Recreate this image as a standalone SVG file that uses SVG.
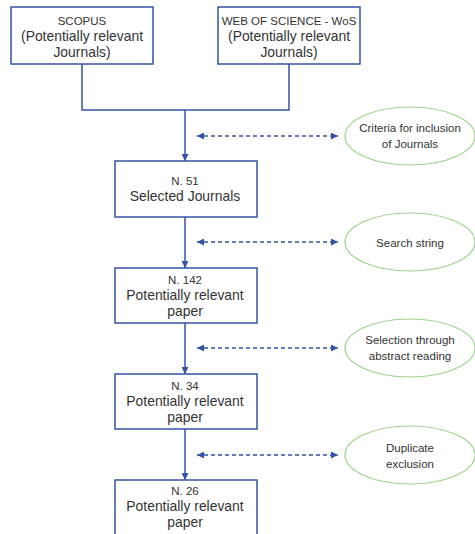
<svg xmlns="http://www.w3.org/2000/svg" width="475" height="534" viewBox="0 0 475 534">
<defs>
<marker id="ah" viewBox="0 0 8 8" refX="8" refY="4" markerWidth="7" markerHeight="7" markerUnits="userSpaceOnUse" orient="auto-start-reverse">
<path d="M0,0 L8,4 L0,8 z" fill="#3553A6"/>
</marker>
<style>
.box{fill:#fff;stroke:#3553A6;stroke-width:1.5}
.ell{fill:#fff;stroke:#9DD18C;stroke-width:1.2}
.ln{fill:none;stroke:#3553A6;stroke-width:1.5}
.dash{fill:none;stroke:#3553A6;stroke-width:1.3;stroke-dasharray:4,3}
text{font-family:"Liberation Sans",Arial,sans-serif;fill:#333;text-anchor:middle}
.s{font-size:11.5px}
.l{font-size:13.9px}
</style>
</defs>
<rect width="475" height="534" fill="#fff"/>
<g id="connectors">
<polyline class="ln" points="82,64 82,110 289,110 289,64"/>
<line class="ln" x1="185" y1="110" x2="185" y2="161" marker-end="url(#ah)"/>
<line class="ln" x1="185" y1="217" x2="185" y2="268" marker-end="url(#ah)"/>
<line class="ln" x1="185" y1="323" x2="185" y2="374" marker-end="url(#ah)"/>
<line class="ln" x1="185" y1="429" x2="185" y2="480" marker-end="url(#ah)"/>
<line class="dash" x1="197" y1="136" x2="338" y2="136" marker-start="url(#ah)" marker-end="url(#ah)"/>
<line class="dash" x1="197" y1="242" x2="338" y2="242" marker-start="url(#ah)" marker-end="url(#ah)"/>
<line class="dash" x1="197" y1="348" x2="338" y2="348" marker-start="url(#ah)" marker-end="url(#ah)"/>
<line class="dash" x1="197" y1="455" x2="338" y2="455" marker-start="url(#ah)" marker-end="url(#ah)"/>
</g>
<g id="scopus">
<rect class="box" x="11" y="7" width="142" height="57"/>
<text class="s" x="82" y="25">SCOPUS</text>
<text class="l" x="82" y="41">(Potentially relevant</text>
<text class="l" x="82" y="57">Journals)</text>
</g>
<g id="wos">
<rect class="box" x="218" y="7" width="142" height="57"/>
<text class="s" x="289" y="25">WEB OF SCIENCE - WoS</text>
<text class="l" x="289" y="41">(Potentially relevant</text>
<text class="l" x="289" y="57">Journals)</text>
</g>
<g id="n51">
<rect class="box" x="115" y="161" width="142" height="56"/>
<text class="s" x="185" y="185">N. 51</text>
<text class="l" x="185" y="201">Selected Journals</text>
</g>
<g id="n142">
<rect class="box" x="115" y="268" width="142" height="55"/>
<text class="s" x="185" y="284">N. 142</text>
<text class="l" x="185" y="300">Potentially relevant</text>
<text class="l" x="185" y="316">paper</text>
</g>
<g id="n34">
<rect class="box" x="115" y="374" width="142" height="55"/>
<text class="s" x="185" y="390">N. 34</text>
<text class="l" x="185" y="406">Potentially relevant</text>
<text class="l" x="185" y="422">paper</text>
</g>
<g id="n26">
<rect class="box" x="115" y="480" width="142" height="56"/>
<text class="s" x="185" y="495">N. 26</text>
<text class="l" x="185" y="511">Potentially relevant</text>
<text class="l" x="185" y="527">paper</text>
</g>
<g id="criteria">
<ellipse class="ell" cx="410" cy="136" rx="65" ry="29"/>
<text class="s" x="410" y="132">Criteria for inclusion</text>
<text class="s" x="410" y="148">of Journals</text>
</g>
<g id="search">
<ellipse class="ell" cx="410" cy="242" rx="65" ry="29"/>
<text class="s" x="410" y="247">Search string</text>
</g>
<g id="selection">
<ellipse class="ell" cx="410" cy="348" rx="65" ry="29"/>
<text class="s" x="410" y="344">Selection through</text>
<text class="s" x="410" y="360">abstract reading</text>
</g>
<g id="duplicate">
<ellipse class="ell" cx="410" cy="455" rx="65" ry="29"/>
<text class="s" x="410" y="452">Duplicate</text>
<text class="s" x="410" y="468">exclusion</text>
</g>
</svg>
